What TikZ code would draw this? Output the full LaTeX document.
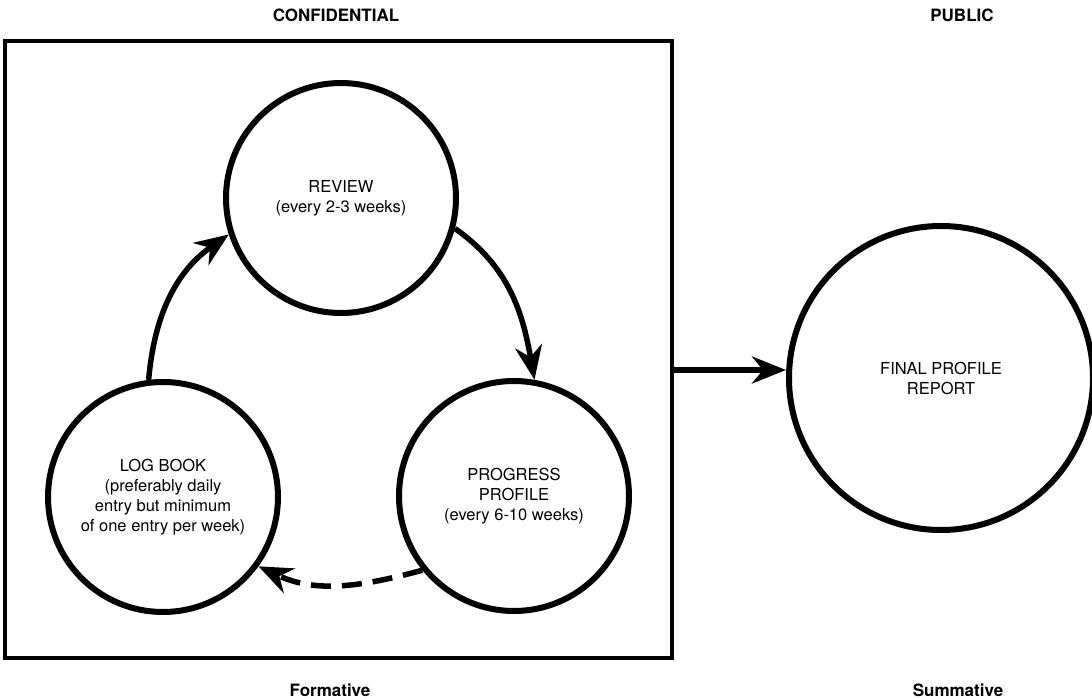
\documentclass[tikz,border=0pt]{standalone}
\usepackage{fontspec}
\setmainfont{TeX Gyre Heros}
\usetikzlibrary{arrows.meta}

\begin{document}
\begin{tikzpicture}[x=1pt, y=-1pt,
		stage/.style={circle, draw, line width=6pt, inner sep=0pt, minimum size=230pt,
			align=center, font=\fontsize{16.5}{20}\selectfont},
		frame/.style={draw, line width=4.5pt, minimum width=667pt, minimum height=617pt, inner sep=0pt},
		head/.style={font=\fontsize{17}{20}\selectfont\bfseries},
		flow/.style={line width=5.5pt, -{Stealth[length=34pt, width=27pt, inset=11pt]}}]
		\useasboundingbox (0,0) rectangle (1092,698);
		
		\node[frame] (conf) at (338.5, 349.5) {};
		
		\begin{scope}[every node/.style={stage}]
		\node (review)   at (341, 198) {REVIEW\\(every 2-3 weeks)};
		
		\node (log)      at (163, 497) {LOG BOOK\\(preferably daily\\entry but minimum\\of one entry per week)};
		\node (progress) at (514, 496) {PROGRESS\\PROFILE\\(every 6-10 weeks)};
		
		\node[minimum size=304pt] (final) at (941, 378) {FINAL PROFILE\\REPORT};
		\end{scope}
		
		\node[head] (conflabel) at (336, 15)  {CONFIDENTIAL};
		\node[head] (publabel)  at (962, 15)  {PUBLIC};
		\node[head] (formlabel) at (330, 690) {Formative};
		\node[head] (sumlabel)  at (958, 690) {Summative};
		
		
		\path [flow] (log.97) edge[out=85, in=215] (review.198);
		\path [flow] (review.345) edge[out=-35, in=100] (progress.80);
		\path [flow, dash pattern=on 20pt off 11pt] (progress.219) edge[out=195, in=-25] (log.324);
		
		\coordinate (exit) at (conf.east |- 0, 370);
		\path [flow] (exit) edge (exit -| final.west);
		
		
		\end{tikzpicture}
\end{document}
